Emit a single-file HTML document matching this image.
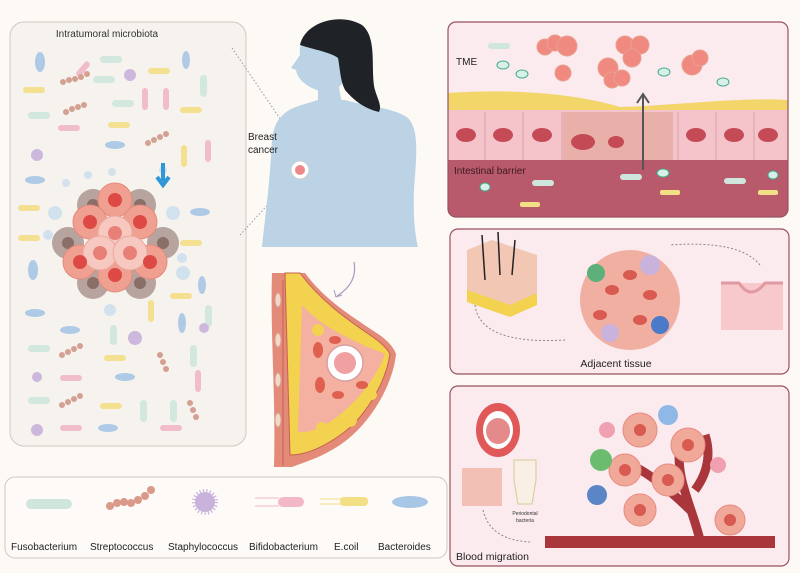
<!DOCTYPE html>
<html><head><meta charset="utf-8"><style>
html,body{margin:0;padding:0;background:#fdfaf7;}
svg{display:block;font-family:"Liberation Sans",sans-serif;}
</style></head><body>
<svg width="800" height="573" viewBox="0 0 800 573" xmlns="http://www.w3.org/2000/svg">
<rect width="800" height="573" fill="#fdfaf6"/>
<!-- Left panel -->
<rect x="10" y="22" width="236" height="424" rx="14" fill="#f6f3ef" stroke="#cfc8c2" stroke-width="1"/>
<text x="107" y="37" font-size="10" text-anchor="middle" fill="#333">Intratumoral microbiota</text>
<g opacity="0.9">
<g fill="#cfe6dc"><rect x="100" y="56" width="22" height="7" rx="3.5"/><rect x="28" y="112" width="22" height="7" rx="3.5"/><rect x="93" y="76" width="22" height="7" rx="3.5"/><rect x="112" y="100" width="22" height="7" rx="3.5"/><rect x="200" y="75" width="7" height="22" rx="3.5"/><rect x="28" y="345" width="22" height="7" rx="3.5"/><rect x="28" y="397" width="22" height="7" rx="3.5"/><rect x="140" y="400" width="7" height="22" rx="3.5"/><rect x="170" y="400" width="7" height="22" rx="3.5"/><rect x="110" y="325" width="7" height="20" rx="3.5"/><rect x="205" y="305" width="7" height="22" rx="3.5"/><rect x="190" y="345" width="7" height="22" rx="3.5"/></g>
<g fill="#f3df86"><rect x="23" y="87" width="22" height="6" rx="3"/><rect x="148" y="68" width="22" height="6" rx="3"/><rect x="108" y="122" width="22" height="6" rx="3"/><rect x="180" y="107" width="22" height="6" rx="3"/><rect x="18" y="205" width="22" height="6" rx="3"/><rect x="18" y="235" width="22" height="6" rx="3"/><rect x="180" y="240" width="22" height="6" rx="3"/><rect x="170" y="293" width="22" height="6" rx="3"/><rect x="104" y="355" width="22" height="6" rx="3"/><rect x="100" y="403" width="22" height="6" rx="3"/><rect x="148" y="300" width="6" height="22" rx="3"/><rect x="181" y="145" width="6" height="22" rx="3"/></g>
<g fill="#f2b8c6"><rect x="142" y="88" width="6" height="22" rx="3"/><rect x="163" y="88" width="6" height="22" rx="3"/><rect x="205" y="140" width="6" height="22" rx="3"/><rect x="58" y="125" width="22" height="6" rx="3"/><rect x="60" y="375" width="22" height="6" rx="3"/><rect x="195" y="370" width="6" height="22" rx="3"/><rect x="60" y="425" width="22" height="6" rx="3"/><rect x="160" y="425" width="22" height="6" rx="3"/><rect x="80" y="60" width="6" height="18" rx="3" transform="rotate(40 83 69)"/></g>
<g fill="#a8c6e6"><ellipse cx="40" cy="62" rx="5" ry="10"/><ellipse cx="186" cy="60" rx="4" ry="9"/><ellipse cx="115" cy="145" rx="10" ry="4"/><ellipse cx="35" cy="180" rx="10" ry="4"/><ellipse cx="200" cy="212" rx="10" ry="4"/><ellipse cx="33" cy="270" rx="5" ry="10"/><ellipse cx="202" cy="285" rx="4" ry="9"/><ellipse cx="35" cy="313" rx="10" ry="4"/><ellipse cx="70" cy="330" rx="10" ry="4"/><ellipse cx="182" cy="323" rx="4" ry="10"/><ellipse cx="125" cy="377" rx="10" ry="4"/><ellipse cx="108" cy="428" rx="10" ry="4"/></g>
<g fill="#c9b2dc"><circle cx="130" cy="75" r="6"/><circle cx="37" cy="155" r="6"/><circle cx="135" cy="338" r="7"/><circle cx="37" cy="430" r="6"/><circle cx="204" cy="328" r="5"/><circle cx="37" cy="377" r="5"/></g>
<g fill="#cfe0ee"><circle cx="55" cy="213" r="7"/><circle cx="173" cy="213" r="7"/><circle cx="110" cy="310" r="6"/><circle cx="183" cy="273" r="7"/><circle cx="182" cy="258" r="5"/><circle cx="88" cy="175" r="4"/><circle cx="112" cy="172" r="4"/><circle cx="163" cy="170" r="4"/><circle cx="66" cy="183" r="4"/><circle cx="48" cy="235" r="5"/></g>
<g fill="#d09888"><circle cx="63" cy="82" r="3"/><circle cx="69" cy="80" r="3"/><circle cx="75" cy="79" r="3"/><circle cx="81" cy="77" r="3"/><circle cx="87" cy="74" r="3"/><circle cx="66" cy="112" r="3"/><circle cx="72" cy="109" r="3"/><circle cx="78" cy="107" r="3"/><circle cx="84" cy="105" r="3"/><circle cx="148" cy="143" r="3"/><circle cx="154" cy="140" r="3"/><circle cx="160" cy="137" r="3"/><circle cx="166" cy="134" r="3"/><circle cx="62" cy="355" r="3"/><circle cx="68" cy="352" r="3"/><circle cx="74" cy="349" r="3"/><circle cx="80" cy="346" r="3"/><circle cx="62" cy="405" r="3"/><circle cx="68" cy="402" r="3"/><circle cx="74" cy="399" r="3"/><circle cx="80" cy="396" r="3"/><circle cx="160" cy="355" r="3"/><circle cx="163" cy="362" r="3"/><circle cx="166" cy="369" r="3"/><circle cx="190" cy="403" r="3"/><circle cx="193" cy="410" r="3"/><circle cx="196" cy="417" r="3"/></g>
</g>
<!-- tumor -->
<g>
<g fill="#b8a49e"><circle cx="93" cy="205" r="16"/><circle cx="140" cy="205" r="16"/><circle cx="68" cy="243" r="16"/><circle cx="163" cy="243" r="16"/><circle cx="93" cy="283" r="16"/><circle cx="140" cy="283" r="16"/></g>
<g fill="#8a6e68"><circle cx="93" cy="205" r="6"/><circle cx="140" cy="205" r="6"/><circle cx="68" cy="243" r="6"/><circle cx="163" cy="243" r="6"/><circle cx="93" cy="283" r="6"/><circle cx="140" cy="283" r="6"/></g>
<g fill="#f0a090" stroke="#e48a7c" stroke-width="1">
<circle cx="115" cy="200" r="17"/><circle cx="90" cy="222" r="17"/><circle cx="140" cy="222" r="17"/><circle cx="80" cy="262" r="17"/><circle cx="150" cy="262" r="17"/><circle cx="115" cy="275" r="17"/></g>
<g fill="#f6c8c0" stroke="#eaa8a0"><circle cx="115" cy="233" r="17"/><circle cx="100" cy="253" r="17"/><circle cx="130" cy="253" r="17"/></g>
<g fill="#dd4a45"><circle cx="115" cy="200" r="7"/><circle cx="90" cy="222" r="7"/><circle cx="140" cy="222" r="7"/><circle cx="80" cy="262" r="7"/><circle cx="150" cy="262" r="7"/><circle cx="115" cy="275" r="7"/></g>
<g fill="#e88078"><circle cx="115" cy="233" r="7"/><circle cx="100" cy="253" r="7"/><circle cx="130" cy="253" r="7"/></g>
<path d="M163 163 v18 M157 177 l6 8 l6 -8" stroke="#2f97d8" stroke-width="4" fill="none"/>
</g>
<!-- dotted connectors -->
<path d="M232 48 L300 148 M240 235 L295 175" stroke="#999" stroke-dasharray="1.5 2" fill="none"/>
<!-- woman -->
<path d="M262 247 C266 210 270 180 272 140 C274 115 290 108 305 104 L318 100 L345 100 C365 106 395 108 408 118 C420 130 416 160 414 190 C413 215 415 235 418 247 Z" fill="#bcd3e6"/>
<path d="M318 82 L318 104 L342 104 L338 82 Z" fill="#bcd3e6"/>
<path d="M300 55 C298 38 312 28 328 30 C342 32 348 45 348 60 C348 80 340 92 325 92 C312 90 298 82 296 70 L291 68 Z" fill="#bcd3e6"/>
<path d="M300 45 C305 22 340 12 362 25 C378 38 370 70 375 90 C378 100 382 106 379 112 C362 108 352 98 345 90 C340 80 340 68 338 58 C330 52 315 50 300 45 Z" fill="#1f2327"/>
<circle cx="300" cy="170" r="9" fill="#fff" stroke="#ccc" stroke-width="1"/>
<circle cx="300" cy="170" r="5" fill="#e88"/>
<text x="248" y="140" font-size="10" fill="#222">Breast</text>
<text x="248" y="153" font-size="10" fill="#222">cancer</text>
<path d="M354 262 Q358 283 337 296" stroke="#a898c0" fill="none" stroke-width="1.2"/>
<path d="M334 290 l2 7 l6 -2" stroke="#a898c0" fill="none"/>
<!-- breast section -->
<path d="M272 273 L305 273 C325 300 350 315 375 332 C388 340 394 348 396 354 C393 385 370 425 340 445 C320 458 305 462 292 467 L274 467 C276 400 270 330 272 273 Z" fill="#e48a78"/>
<path d="M285 273 L300 273 C320 300 345 318 370 335 C382 343 388 350 390 354 C386 382 365 420 336 438 C318 450 302 455 290 455 Z" fill="#f2d24e" stroke="#c86050" stroke-width="1"/>
<path d="M302 305 C320 325 345 338 385 354 C375 380 355 405 330 422 C318 430 306 433 298 432 Z" fill="#f4b0a0"/>
<g fill="#f2d24e"><circle cx="312" cy="300" r="7"/><circle cx="350" cy="330" r="6"/><circle cx="367" cy="342" r="5"/><circle cx="318" cy="330" r="6"/><circle cx="350" cy="420" r="7"/><circle cx="322" cy="428" r="6"/><circle cx="372" cy="395" r="5"/></g>
<g fill="#e06050"><ellipse cx="318" cy="350" rx="5" ry="8"/><ellipse cx="335" cy="340" rx="6" ry="4"/><ellipse cx="320" cy="385" rx="5" ry="8"/><ellipse cx="338" cy="395" rx="6" ry="4"/><ellipse cx="362" cy="385" rx="6" ry="4"/></g>
<path d="M283 280 L283 465" stroke="#c86050" stroke-width="1"/>
<g fill="#f2d8c8" stroke="#d8a090"><ellipse cx="278" cy="300" rx="3" ry="7"/><ellipse cx="278" cy="340" rx="3" ry="7"/><ellipse cx="278" cy="380" rx="3" ry="7"/><ellipse cx="278" cy="420" rx="3" ry="7"/></g>
<circle cx="345" cy="363" r="18" fill="#fff" stroke="#d8a0a0" stroke-width="1.5"/>
<circle cx="345" cy="363" r="11" fill="#f0a0a0"/>
<!-- legend -->
<rect x="5" y="477" width="442" height="81" rx="10" fill="#fdfaf7" stroke="#cfc6c0"/>
<rect x="26" y="499" width="46" height="10" rx="5" fill="#cfe6dc"/>
<g fill="#d99a8a"><circle cx="110" cy="506" r="4"/><circle cx="117" cy="503" r="4"/><circle cx="124" cy="502" r="4"/><circle cx="131" cy="503" r="4"/><circle cx="138" cy="500" r="4"/><circle cx="145" cy="496" r="4"/><circle cx="151" cy="490" r="4"/></g>
<circle cx="205" cy="502" r="10" fill="#c9b2dc" stroke="#c9b2dc" stroke-dasharray="1 2" stroke-width="6"/>
<rect x="278" y="497" width="26" height="10" rx="5" fill="#f2b8c6"/><path d="M255 498 h24 M255 506 h24" stroke="#f2b8c6"/>
<rect x="340" y="497" width="28" height="9" rx="4" fill="#f3df86"/><path d="M320 499 h22 M320 504 h22" stroke="#f3df86"/>
<ellipse cx="410" cy="502" rx="18" ry="6" fill="#a8c6e6"/>
<g font-size="10" fill="#222"><text x="11" y="550">Fusobacterium</text><text x="90" y="550">Streptococcus</text><text x="168" y="550">Staphylococcus</text><text x="249" y="550">Bifidobacterium</text><text x="334" y="550">E.coil</text><text x="378" y="550">Bacteroides</text></g>
<!-- TME panel -->
<clipPath id="c1"><rect x="448" y="22" width="340" height="195" rx="8"/></clipPath>
<g clip-path="url(#c1)">
<rect x="448" y="22" width="340" height="195" fill="#fbeaee"/>
<path d="M448 93 C520 88 580 95 620 107 C680 105 740 97 788 100 L788 112 L448 112 Z" fill="#f3d66a"/>
<rect x="448" y="110" width="340" height="50" fill="#f5c4cb"/>
<g fill="none" stroke="#dba0aa"><path d="M485 112 v48 M523 112 v48 M562 112 v48 M600 112 v48 M640 112 v48 M678 112 v48 M716 112 v48 M754 112 v48"/></g>
<rect x="563" y="112" width="110" height="48" fill="#e8b0a8"/>
<g fill="#c44a55"><ellipse cx="466" cy="135" rx="10" ry="7"/><ellipse cx="503" cy="135" rx="10" ry="7"/><ellipse cx="542" cy="135" rx="10" ry="7"/><ellipse cx="583" cy="142" rx="12" ry="8"/><ellipse cx="616" cy="142" rx="8" ry="6"/><ellipse cx="696" cy="135" rx="10" ry="7"/><ellipse cx="734" cy="135" rx="10" ry="7"/><ellipse cx="768" cy="135" rx="10" ry="7"/></g>
<rect x="448" y="160" width="340" height="57" fill="#b95a6c"/>
<path d="M643 170 V95 M637 103 l6 -9 l6 9" stroke="#555" stroke-width="2" fill="none"/>
<g fill="#f08a80" stroke="#e8a090"><circle cx="545" cy="47" r="8"/><circle cx="555" cy="43" r="8"/><circle cx="608" cy="68" r="10"/><circle cx="625" cy="45" r="9"/><circle cx="640" cy="45" r="9"/><circle cx="632" cy="58" r="9"/><circle cx="692" cy="65" r="10"/><circle cx="700" cy="58" r="8"/><circle cx="567" cy="46" r="10"/><circle cx="563" cy="73" r="8"/><circle cx="612" cy="80" r="8"/><circle cx="622" cy="78" r="8"/></g>
<g fill="#d8f0ea" stroke="#4a8"><ellipse cx="503" cy="65" rx="6" ry="4"/><ellipse cx="522" cy="74" rx="6" ry="4"/><ellipse cx="723" cy="82" rx="6" ry="4"/><ellipse cx="664" cy="72" rx="6" ry="4"/><ellipse cx="485" cy="187" rx="5" ry="4"/><ellipse cx="663" cy="173" rx="6" ry="4"/><ellipse cx="773" cy="175" rx="5" ry="4"/></g>
<g fill="#cfe6dc"><rect x="488" y="43" width="22" height="6" rx="3"/><rect x="620" y="174" width="22" height="6" rx="3"/><rect x="724" y="178" width="22" height="6" rx="3"/><rect x="532" y="180" width="22" height="6" rx="3"/></g>
<g fill="#f3df86"><rect x="660" y="190" width="20" height="5" rx="2"/><rect x="758" y="190" width="20" height="5" rx="2"/><rect x="520" y="202" width="20" height="5" rx="2"/></g>
<text x="456" y="65" font-size="10" fill="#222">TME</text>
<text x="454" y="174" font-size="10" fill="#3a1a22">Intestinal barrier</text>
</g>
<rect x="448" y="22" width="340" height="195" rx="8" fill="none" stroke="#9a5060" stroke-width="1.2"/>
<!-- Adjacent tissue -->
<rect x="450" y="229" width="339" height="145" rx="8" fill="#fbeaee" stroke="#9a5060" stroke-width="1.2"/>
<path d="M467 250 L492 240 L537 255 L537 300 L510 312 L467 300 Z" fill="#f2c8b4"/>
<path d="M467 290 L510 305 L537 293 L537 305 L510 317 L467 302 Z" fill="#f2d24e"/>
<path d="M482 235 L485 280 M498 232 L500 275 M515 240 L512 275" stroke="#222" stroke-width="1.5"/>
<circle cx="630" cy="300" r="50" fill="#f0a898" opacity="0.9"/>
<g fill="#d85a50"><ellipse cx="612" cy="290" rx="7" ry="5"/><ellipse cx="650" cy="295" rx="7" ry="5"/><ellipse cx="630" cy="275" rx="7" ry="5"/><ellipse cx="600" cy="315" rx="7" ry="5"/><ellipse cx="640" cy="320" rx="7" ry="5"/></g>
<circle cx="596" cy="273" r="9" fill="#5db07a"/><circle cx="660" cy="325" r="9" fill="#4a7ac8"/><circle cx="650" cy="265" r="10" fill="#c9b2dc"/><circle cx="610" cy="333" r="9" fill="#c9b2dc"/>
<rect x="721" y="283" width="62" height="47" fill="#f7c8cc"/>
<path d="M721 283 h18 q12 18 26 0 h18" stroke="#e09aa2" stroke-width="3" fill="none"/>
<path d="M760 265 Q740 240 670 245" stroke="#888" stroke-dasharray="2 2" fill="none"/>
<path d="M475 305 Q480 345 565 340" stroke="#888" stroke-dasharray="2 2" fill="none"/>
<text x="616" y="367" font-size="10.5" text-anchor="middle" fill="#222">Adjacent tissue</text>
<!-- Blood migration -->
<rect x="450" y="386" width="339" height="180" rx="8" fill="#fbeaee" stroke="#9a5060" stroke-width="1.2"/>
<ellipse cx="498" cy="430" rx="22" ry="27" fill="#e05858"/><ellipse cx="498" cy="430" rx="15" ry="19" fill="#fff"/><ellipse cx="498" cy="431" rx="12" ry="13" fill="#e58a8a"/>
<path d="M462 468 h40 v38 h-40 z" fill="#f2c0b4"/>
<path d="M514 460 h22 v20 l-4 24 h-14 l-4 -24 z" fill="#f8f0e4" stroke="#d8c898"/>
<text x="525" y="515" font-size="5" text-anchor="middle" fill="#333">Periodontal</text><text x="525" y="522" font-size="5" text-anchor="middle" fill="#333">bacteria</text>
<path d="M483 510 Q490 540 530 542" stroke="#888" stroke-dasharray="2 2" fill="none"/>
<rect x="545" y="536" width="230" height="12" fill="#a8363a"/>
<path d="M700 540 C690 500 675 480 680 440 M690 510 C670 490 645 470 630 465 M695 490 C710 470 710 450 705 435" stroke="#a8363a" stroke-width="9" fill="none"/>
<g fill="#f0a898" stroke="#e88a80"><circle cx="640" cy="430" r="17"/><circle cx="688" cy="445" r="17"/><circle cx="625" cy="470" r="16"/><circle cx="668" cy="480" r="16"/><circle cx="640" cy="510" r="16"/><circle cx="730" cy="520" r="15"/></g>
<g fill="#d85a50"><circle cx="640" cy="430" r="6"/><circle cx="688" cy="445" r="6"/><circle cx="625" cy="470" r="6"/><circle cx="668" cy="480" r="6"/><circle cx="640" cy="510" r="6"/><circle cx="730" cy="520" r="6"/></g>
<circle cx="601" cy="460" r="11" fill="#6cbc70"/><circle cx="597" cy="495" r="10" fill="#5a86c8"/><circle cx="668" cy="415" r="10" fill="#8fb8e6"/><circle cx="607" cy="430" r="8" fill="#f0a0b0"/><circle cx="718" cy="465" r="8" fill="#f0a0b0"/>
<text x="456" y="560" font-size="10.5" fill="#222">Blood migration</text>
</svg>
</body></html>
